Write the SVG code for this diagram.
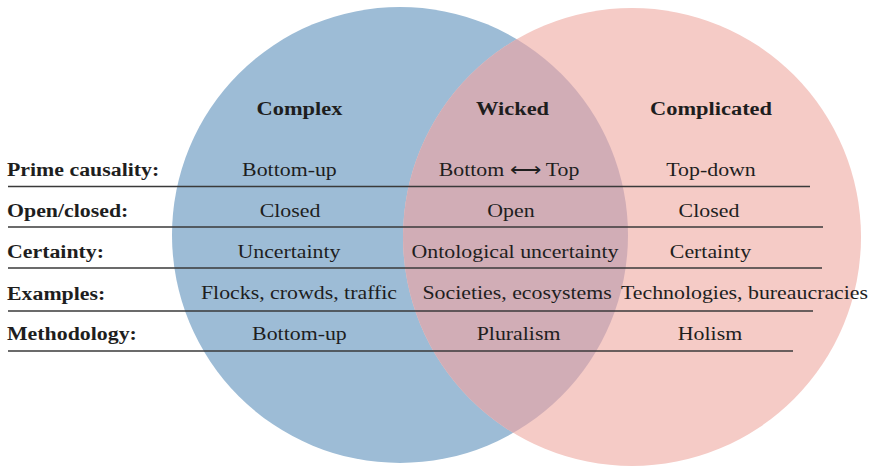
<svg xmlns="http://www.w3.org/2000/svg" width="876" height="466" viewBox="0 0 876 466">
  <style>
    text { font-family: "Liberation Serif", "Times New Roman", serif; fill: #1e1e1e; font-size: 19px; }
    .head { font-weight: bold; font-size: 19.5px; text-anchor: middle; }
    .lab { font-weight: bold; }
    .cell { text-anchor: middle; }
    .rule { stroke: #3a3a3a; stroke-width: 1.5; fill: none; }
  </style>
  <defs>
    <clipPath id="blueClip">
      <circle cx="400" cy="235" r="228"/>
    </clipPath>
  </defs>
  <rect width="876" height="466" fill="#ffffff"/>

  <!-- Venn sets -->
  <g id="complex-set">
    <circle cx="400" cy="235" r="228" fill="#9dbcd6"/>
  </g>
  <g id="complicated-set">
    <circle cx="632" cy="237" r="229" fill="#f5cbc6"/>
  </g>
  <g id="wicked-set">
    <circle cx="632" cy="237" r="229" fill="#d1adb6" clip-path="url(#blueClip)"/>
  </g>

  <!-- Row rules -->
  <g id="rules">
    <line class="rule" x1="8" y1="186.5" x2="810" y2="186.5"/>
    <line class="rule" x1="8" y1="227" x2="823" y2="227"/>
    <line class="rule" x1="8" y1="268" x2="822" y2="268"/>
    <line class="rule" x1="8" y1="311" x2="813" y2="311"/>
    <line class="rule" x1="8" y1="351" x2="793" y2="351"/>
  </g>

  <!-- Text is set in a horizontally widened type (x values are in the scaled space) -->
  <g id="headers" transform="scale(1.15 1)">
    <text class="head" x="260.4" y="115">Complex</text>
    <text class="head" x="445.7" y="115">Wicked</text>
    <text class="head" x="618.3" y="115">Complicated</text>
  </g>

  <g id="row-causality" transform="scale(1.15 1)">
    <text class="lab" x="6.1" y="176">Prime causality:</text>
    <text class="cell" x="251.7" y="176">Bottom-up</text>
    <text class="cell" x="442.6" y="176">Bottom ⟷ Top</text>
    <text class="cell" x="618.3" y="176">Top-down</text>
  </g>
  <g id="row-open" transform="scale(1.15 1)">
    <text class="lab" x="6.1" y="217">Open/closed:</text>
    <text class="cell" x="252.2" y="217">Closed</text>
    <text class="cell" x="444.3" y="217">Open</text>
    <text class="cell" x="616.5" y="217">Closed</text>
  </g>
  <g id="row-certainty" transform="scale(1.15 1)">
    <text class="lab" x="6.1" y="258">Certainty:</text>
    <text class="cell" x="251.3" y="258">Uncertainty</text>
    <text class="cell" x="447.8" y="258">Ontological uncertainty</text>
    <text class="cell" x="617.8" y="258">Certainty</text>
  </g>
  <g id="row-examples" transform="scale(1.15 1)">
    <text class="lab" x="6.1" y="300">Examples:</text>
    <text class="cell" x="260" y="299">Flocks, crowds, traffic</text>
    <text class="cell" x="449.6" y="299">Societies, ecosystems</text>
    <text class="cell" x="647.4" y="299">Technologies, bureaucracies</text>
  </g>
  <g id="row-method" transform="scale(1.15 1)">
    <text class="lab" x="6.1" y="340">Methodology:</text>
    <text class="cell" x="260.4" y="340">Bottom-up</text>
    <text class="cell" x="450.9" y="340">Pluralism</text>
    <text class="cell" x="617.4" y="340">Holism</text>
  </g>
</svg>
